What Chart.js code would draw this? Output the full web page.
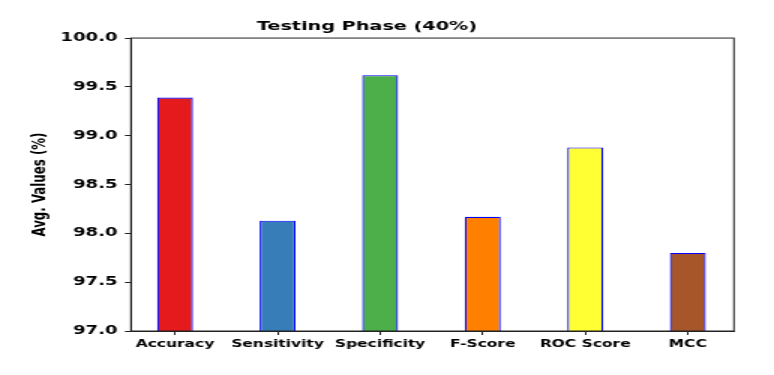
<!DOCTYPE html>
<html>
<head>
<meta charset="utf-8">
<script src="https://cdn.jsdelivr.net/npm/chart.js@4/dist/chart.umd.min.js"></script>
<style>
  html, body { margin: 0; padding: 0; background: #fff; overflow: hidden; }
  /* the source figure is stretched sideways, so draw narrow and widen it */
  #wrap { width: 516px; height: 375px; transform: scaleX(1.5); transform-origin: 0 0; }
</style>
</head>
<body>
<div id="wrap"><canvas id="chart" width="516" height="375"></canvas></div>
<script>
const categories = ['Accuracy', 'Sensitivity', 'Specificity', 'F-Score', 'ROC Score', 'MCC'];
const avgValues = [99.39, 98.13, 99.62, 98.17, 98.88, 97.80];
const barColors = ['#e41a1c', '#377eb8', '#4daf4a', '#ff7f00', '#ffff33', '#a65628'];
const yTicks = [97.0, 97.5, 98.0, 98.5, 99.0, 99.5, 100.0];

const boxPlugin = {
    id: 'box',
    afterDraw(chart) {
        const { ctx, chartArea: a } = chart;
        ctx.save();
        ctx.strokeStyle = '#222';
        ctx.lineWidth = 1;
        ctx.strokeRect(a.left, a.top, a.right - a.left, a.bottom - a.top);
        ctx.restore();
    }
};

const ctx = document.getElementById('chart').getContext('2d');
new Chart(ctx, {
    type: 'bar',
    data: {
        datasets: [{
            data: avgValues.map((v, i) => ({ x: i, y: v })),
            backgroundColor: barColors,
            borderColor: '#0000ff',
            borderWidth: 1.2,
            borderSkipped: false,
            barPercentage: 0.35,
            categoryPercentage: 1
        }]
    },
    options: {
        responsive: false,
        animation: false,
        layout: { padding: { left: 0, right: 26.7, top: 0, bottom: 0 } },
        plugins: {
            legend: { display: false },
            tooltip: { enabled: false },
            title: {
                display: true,
                text: 'Testing Phase (40%)',
                color: '#000',
                font: { family: 'DejaVu Sans', size: 12.8, weight: 'bold' },
                padding: { top: 19.3, bottom: 3.4 }
            }
        },
        scales: {
            x: {
                type: 'linear',
                min: -0.43,
                max: 5.45,
                offset: false,
                afterBuildTicks: (scale) => {
                    scale.ticks = categories.map((c, i) => ({ value: i }));
                },
                afterFit: (scale) => { scale.height = 44; },
                grid: { offset: false, drawOnChartArea: false, drawTicks: true, tickLength: 4, color: '#222' },
                border: { display: true, color: '#222' },
                ticks: {
                    color: '#000',
                    padding: 3,
                    maxRotation: 0,
                    autoSkip: false,
                    font: { family: 'DejaVu Sans', size: 10.3, weight: 'bold' },
                    callback: (v) => categories[v]
                }
            },
            y: {
                min: yTicks[0],
                max: yTicks[yTicks.length - 1],
                afterBuildTicks: (scale) => {
                    scale.ticks = yTicks.map(v => ({ value: v }));
                },
                afterFit: (scale) => { scale.width = 87.3; },
                grid: { drawOnChartArea: false, drawTicks: true, tickLength: 4, color: '#222' },
                border: { display: true, color: '#222' },
                ticks: {
                    color: '#000',
                    padding: 5,
                    font: { family: 'DejaVu Sans', size: 12, weight: 'bold' },
                    callback: (v) => Number(v).toFixed(1)
                },
                title: {
                    display: true,
                    text: 'Avg. Values (%)',
                    color: '#000',
                    font: { family: 'DejaVu Sans', size: 11.8, weight: 'bold' },
                    padding: { top: 20, bottom: 0 }
                }
            }
        }
    },
    plugins: [boxPlugin]
});
</script>
</body>
</html>
